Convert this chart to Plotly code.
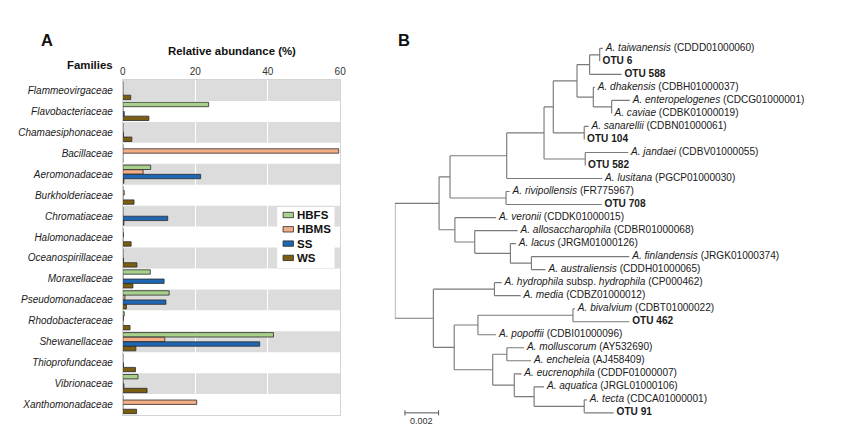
import plotly.graph_objects as go

# ---------------- Panel A data ----------------
families = ["Flammeovirgaceae", "Flavobacteriaceae", "Chamaesiphonaceae", "Bacillaceae",
            "Aeromonadaceae", "Burkholderiaceae", "Chromatiaceae", "Halomonadaceae",
            "Oceanospirillaceae", "Moraxellaceae", "Pseudomonadaceae", "Rhodobacteraceae",
            "Shewanellaceae", "Thioprofundaceae", "Vibrionaceae", "Xanthomonadaceae"]
hbfs = [0.0, 23.7, 0.0, 0.0, 7.7, 0.0, 0.0, 0.0, 0.0, 7.6, 12.8, 0.4, 41.6, 0.0, 4.2, 0.0]
hbms = [0.0, 0.0, 0.0, 59.6, 5.6, 0.4, 0.0, 0.2, 0.0, 0.0, 0.6, 0.2, 11.6, 0.0, 0.0, 20.4]
ss = [0.0, 0.4, 0.2, 0.0, 21.5, 0.0, 12.4, 0.0, 0.2, 11.4, 11.9, 0.0, 37.8, 0.2, 0.3, 0.0]
ws = [2.2, 7.2, 2.5, 0.0, 0.3, 3.1, 0.3, 2.3, 3.9, 2.8, 1.0, 2.0, 3.6, 3.5, 6.7, 3.8]
series_names = ["HBFS", "HBMS", "SS", "WS"]
series_colors = ["#a8d18d", "#f4ae86", "#1f66b3", "#7c5e12"]
x_ticks = [0, 20, 40, 60]

# ---------------- Panel B data (phylogenetic tree) ----------------
tree_node = ["root", "N1", "N2", "N3", "N4", "N5", "N6", "N7", "N8", "taiw", "OTU6", "OTU588",
             "N9", "dhak", "N10", "entero", "caviae", "N11", "sanar", "OTU104", "N12", "jandaei",
             "OTU582", "lusitana", "N13", "rivip", "OTU708", "N14", "veronii", "N15", "allos",
             "N16", "lacus", "N17", "finland", "austral", "L1", "L2", "hydro", "media", "L3",
             "L4", "L5", "bival", "OTU462", "popoffii", "L6", "L7", "moll", "ench", "L8",
             "eucren", "L9", "aquatica", "L10", "tecta", "OTU91"]
tree_parent = [None, "root", "N1", "N2", "N3", "N4", "N5", "N6", "N7", "N8", "N8", "N7",
               "N6", "N9", "N9", "N10", "N10", "N5", "N11", "N11", "N4", "N12",
               "N12", "N3", "N2", "N13", "N13", "N1", "N14", "N14", "N15",
               "N15", "N16", "N16", "N17", "N17", "root", "L1", "L2", "L2", "L1",
               "L3", "L4", "L5", "L5", "L4", "L3", "L6", "L7", "L7", "L6",
               "L8", "L8", "L9", "L9", "L10", "L10"]
tree_length = [0.0, 0.00263, 0.00065, 0.00337, 0.00222, 0.00055, 0.00141, 0.00075, 0.00060, 0.00019, 0.0, 0.0019,
               0.00097, 0.00009, 0.00109, 0.00108, 0.0, 0.00184, 0.00026, 0.0, 0.00245, 0.00255,
               0.0, 0.00568, 0.00333, 0.00022, 0.00569, 0.00094, 0.00245, 0.00118, 0.00255,
               0.00212, 0.00033, 0.00125, 0.00582, 0.00084, 0.00229, 0.00363, 0.00043, 0.00156, 0.00124,
               0.00141, 0.00565, 0.00012, 0.00335, 0.00108, 0.00229, 0.00084, 0.00102, 0.00145, 0.00128,
               0.00043, 0.00118, 0.00059, 0.00298, 0.00016, 0.00175]
tree_label = ["", "", "", "", "", "", "", "", "",
              "<i>A. taiwanensis</i> (CDDD01000060)", "<b>OTU 6</b>", "<b>OTU 588</b>",
              "", "<i>A. dhakensis</i> (CDBH01000037)", "",
              "<i>A. enteropelogenes</i> (CDCG01000001)", "<i>A. caviae</i> (CDBK01000019)",
              "", "<i>A. sanarellii</i> (CDBN01000061)", "<b>OTU 104</b>",
              "", "<i>A. jandaei</i> (CDBV01000055)", "<b>OTU 582</b>",
              "<i>A. lusitana</i> (PGCP01000030)",
              "", "<i>A. rivipollensis</i> (FR775967)", "<b>OTU 708</b>",
              "", "<i>A. veronii</i> (CDDK01000015)", "",
              "<i>A. allosaccharophila</i> (CDBR01000068)", "",
              "<i>A. lacus</i> (JRGM01000126)", "",
              "<i>A. finlandensis</i> (JRGK01000374)", "<i>A. australiensis</i> (CDDH01000065)",
              "", "", "<i>A. hydrophila</i> subsp. <i>hydrophila</i> (CP000462)",
              "<i>A. media</i> (CDBZ01000012)", "",
              "", "", "<i>A. bivalvium</i> (CDBT01000022)", "<b>OTU 462</b>",
              "<i>A. popoffii</i> (CDBI01000096)", "", "",
              "<i>A. molluscorum</i> (AY532690)", "<i>A. encheleia</i> (AJ458409)", "",
              "<i>A. eucrenophila</i> (CDDF01000007)", "",
              "<i>A. aquatica</i> (JRGL01000106)", "",
              "<i>A. tecta</i> (CDCA01000001)", "<b>OTU 91</b>"]
scale_bar_length = 0.002
scale_bar_label = "0.002"

FONT = "Arial, Liberation Sans, sans-serif"
VIEW_W, VIEW_H = 850, 443
PAGE_MARGIN = 8          # default body margin of the html page
W, H = VIEW_W - PAGE_MARGIN, VIEW_H - PAGE_MARGIN


def px(x):
    return (x - PAGE_MARGIN) / W


def py(y):
    return 1 - (y - PAGE_MARGIN) / H


fig = go.Figure()

# ---------- Panel A bars ----------
for name, vals, col in zip(series_names, [hbfs, hbms, ss, ws], series_colors):
    fig.add_trace(go.Bar(
        x=vals, y=families, orientation="h", name=name,
        marker=dict(color=col, line=dict(color="#2b2b2b", width=0.8)),
        showlegend=False, xaxis="x", yaxis="y",
    ))

# alternating grey bands
for i in range(0, len(families), 2):
    fig.add_shape(type="rect", xref="x", yref="y", x0=0, x1=60, y0=i - 0.5, y1=i + 0.5,
                  fillcolor="#dcdcdc", line=dict(width=0), layer="below")

# ---------- Panel B tree ----------
children = {n: [] for n in tree_node}
for n, p in zip(tree_node, tree_parent):
    if p is not None:
        children[p].append(n)
length_of = dict(zip(tree_node, tree_length))
label_of = dict(zip(tree_node, tree_label))
depth = {}
ypos = {}
leaf_counter = [0]


def layout(n, d):
    d = d + length_of[n]
    depth[n] = d
    if not children[n]:
        ypos[n] = leaf_counter[0]
        leaf_counter[0] += 1
    else:
        for c in children[n]:
            layout(c, d)
        ypos[n] = (ypos[children[n][0]] + ypos[children[n][-1]]) / 2.0


layout("root", 0.0)

lx, ly = [], []
for n, p in zip(tree_node, tree_parent):
    if p is not None:
        lx += [depth[p], depth[n], None]
        ly += [ypos[n], ypos[n], None]
    if children[n]:
        lx += [depth[n], depth[n], None]
        ly += [ypos[children[n][0]], ypos[children[n][-1]], None]

fig.add_trace(go.Scatter(x=lx, y=ly, mode="lines", line=dict(color="#7a7a7a", width=1.15),
                         hoverinfo="skip", showlegend=False, xaxis="x2", yaxis="y2"))

leaves = [n for n in tree_node if not children[n]]
fig.add_trace(go.Scatter(
    x=[depth[n] for n in leaves], y=[ypos[n] for n in leaves],
    text=[label_of[n] for n in leaves], mode="markers+text", textposition="middle right",
    marker=dict(size=3, color="rgba(0,0,0,0)"),
    textfont=dict(family=FONT, size=10.1, color="#1a1a1a"),
    hoverinfo="skip", showlegend=False, xaxis="x2", yaxis="y2"))

# scale bar
n_leaves = len(leaves)
sb_x0 = 0.0006
sb_y = n_leaves - 1
fig.add_trace(go.Scatter(
    x=[sb_x0, sb_x0 + scale_bar_length, None, sb_x0, sb_x0, None,
       sb_x0 + scale_bar_length, sb_x0 + scale_bar_length],
    y=[sb_y, sb_y, None, sb_y - 0.2, sb_y + 0.2, None, sb_y - 0.2, sb_y + 0.2],
    mode="lines", line=dict(color="#555555", width=1), hoverinfo="skip",
    showlegend=False, xaxis="x2", yaxis="y2"))
fig.add_annotation(x=sb_x0 + scale_bar_length / 2, y=sb_y + 0.62, xref="x2", yref="y2",
                   text=scale_bar_label, showarrow=False, xanchor="center", yanchor="middle",
                   font=dict(family=FONT, size=9, color="#333333"))

# ---------- manual legend for panel A ----------
fig.add_shape(type="rect", xref="paper", yref="paper", x0=px(277), x1=px(335),
              y0=py(268), y1=py(207), fillcolor="white", line=dict(width=0), layer="above")
for i, (name, col) in enumerate(zip(series_names, series_colors)):
    yc = 215 + 14.3 * i
    fig.add_shape(type="rect", xref="paper", yref="paper", x0=px(283), x1=px(293.5),
                  y0=py(yc + 2.7), y1=py(yc - 2.7), fillcolor=col,
                  line=dict(color="#2b2b2b", width=0.8), layer="above")
    fig.add_annotation(x=px(295.5), y=py(yc), xref="paper", yref="paper", text="<b>%s</b>" % name,
                       showarrow=False, xanchor="left", yanchor="middle",
                       font=dict(family=FONT, size=11.5, color="#111111"))


# ---------- texts ----------
def add_text(x, y, text, size):
    fig.add_annotation(x=px(x), y=py(y), xref="paper", yref="paper", text=text,
                       showarrow=False, xanchor="center", yanchor="middle",
                       font=dict(family=FONT, size=size, color="#111111"))


add_text(44, 40, "<b>A</b>", 16.5)
add_text(405, 40, "<b>B</b>", 16.5)
add_text(231, 51, "<b>Relative abundance (%)</b>", 11.4)
add_text(88, 65, "<b>Families</b>", 11.4)

fig.update_layout(
    width=W, height=H, margin=dict(l=0, r=0, t=0, b=0),
    paper_bgcolor="white", plot_bgcolor="white",
    barmode="group", bargap=0.12, bargroupgap=0.05,
    font=dict(family=FONT),
    xaxis=dict(domain=[px(121), px(340.7)], range=[0, 60], side="top", tickvals=x_ticks,
               showgrid=True, gridcolor="white", gridwidth=1.2, zeroline=False,
               showline=True, linecolor="#d4d4d4", linewidth=1, mirror=True,
               ticks="", tickfont=dict(family=FONT, size=10, color="#333333"), fixedrange=True),
    yaxis=dict(domain=[py(415), py(80)], categoryorder="array", categoryarray=families,
               autorange="reversed", showgrid=False, zeroline=False,
               showline=True, linecolor="#d4d4d4", linewidth=1, mirror=True,
               ticks="", ticklabelstandoff=7,
               tickfont=dict(family=FONT, size=10, color="#1a1a1a", style="italic"),
               fixedrange=True),
    xaxis2=dict(domain=[px(396), 1.0], range=[0, (VIEW_W - 396) / 17000.0], visible=False,
                fixedrange=True),
    yaxis2=dict(domain=[py(48.3 + 13.02 * (n_leaves + 0.5)), py(48.3 - 13.02 * 0.5)],
                range=[n_leaves + 0.5, -0.5], visible=False, fixedrange=True),
)

fig.write_html("out.html")
